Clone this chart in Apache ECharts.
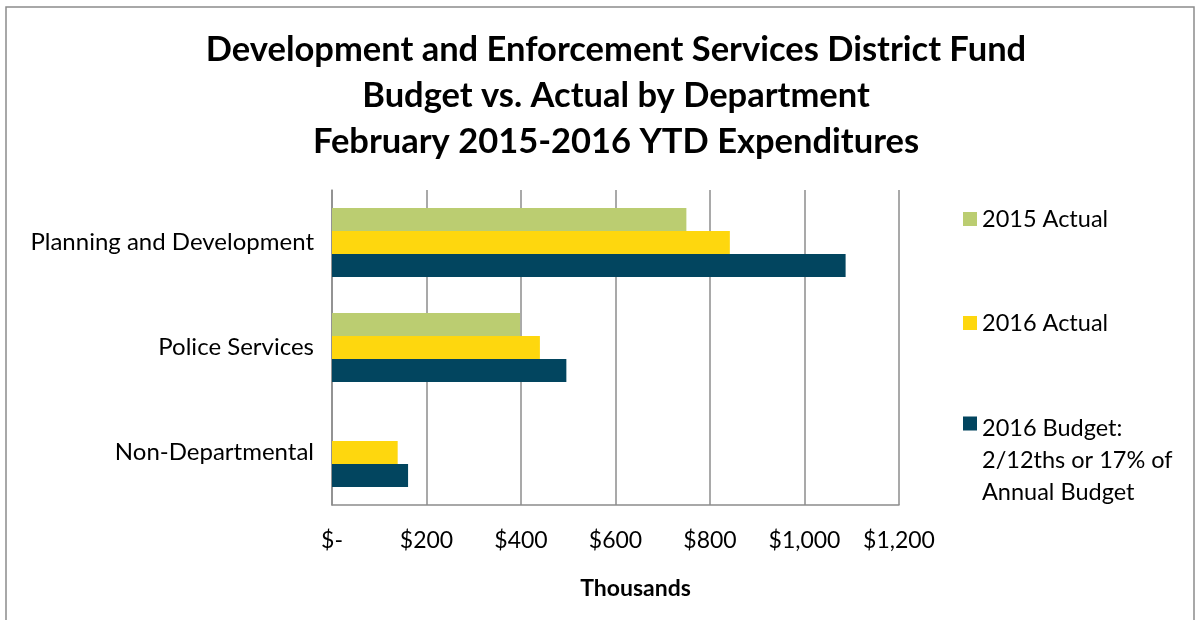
<!DOCTYPE html>
<html>
<head>
<meta charset="utf-8">
<script src="https://cdn.jsdelivr.net/npm/echarts@6/dist/echarts.min.js"></script>
<style>
  html, body { margin: 0; padding: 0; background: #fff; }
  #myChart { width: 1195px; height: 620px; }
</style>
</head>
<body>
<div id="myChart"></div>
<script>
// data
var departments = ['Planning and Development', 'Police Services', 'Non-Departmental']
var actual2015 = [750, 398, null]
var actual2016 = [842, 440, 139]
var budget2016 = [1087, 496, 161]
var xTicks = ['$-', '$200', '$400', '$600', '$800', '$1,000', '$1,200']

var font = 'Lato'
var myChart = echarts.init(document.getElementById('myChart'))

// one legend per item so each can sit at its own height
function legendBox(name, top, icon, h) {
    return {
        data: [name],
        orient: 'vertical',
        left: 958,
        top: top,
        itemWidth: 14,
        itemHeight: h || 14,
        itemGap: 0,
        icon: icon || 'rect',
        selectedMode: false,
        textStyle: {
            fontFamily: font,
            fontSize: 23.5,
            color: '#000',
            lineHeight: 32
        }
    }
}

myChart.setOption({
    animation: false,
    title: {
        text: 'Development and Enforcement Services District Fund\nBudget vs. Actual by Department\nFebruary 2015-2016 YTD Expenditures',
        left: 611,
        textAlign: 'center',
        top: 22,
        textStyle: {
            fontFamily: font,
            fontSize: 34.5,
            fontWeight: 'bold',
            color: '#000',
            lineHeight: 46
        }
    },
    legend: [
        legendBox('2015 Actual', 198),
        legendBox('2016 Actual', 302),
        // tall icon box with the square at the top, so the square lines up with the first text line
        legendBox('2016 Budget:\n2/12ths or 17% of\nAnnual Budget', 407, 'path://M0,9h14v14h-14zM0,96h14', 96)
    ],
    grid: {
        left: 332,
        right: 296,
        top: 190,
        bottom: 115
    },
    xAxis: {
        type: 'value',
        min: 0,
        max: 1200,
        interval: 200,
        name: 'Thousands',
        nameLocation: 'middle',
        nameGap: 72,
        nameTextStyle: {
            fontFamily: font,
            fontSize: 23,
            fontWeight: 'bold',
            color: '#000',
            padding: [0, 0, 0, 40]
        },
        axisLine: { show: true, lineStyle: { color: '#8c8c8c', width: 1.5 } },
        axisTick: { show: false },
        splitLine: { show: true, lineStyle: { color: '#8c8c8c', width: 1.5 } },
        axisLabel: {
            margin: 24,
            fontFamily: font,
            fontSize: 23,
            color: '#000',
            formatter: function (v) { return xTicks[v / 200] }
        }
    },
    yAxis: {
        type: 'category',
        data: departments,
        inverse: true,
        axisLine: { show: true, lineStyle: { color: '#8c8c8c', width: 1.5 } },
        axisTick: { show: false },
        axisLabel: {
            margin: 18,
            fontFamily: font,
            fontSize: 24,
            color: '#000'
        }
    },
    series: [
        {
            name: '2015 Actual',
            type: 'bar',
            data: actual2015,
            barWidth: 23,
            barGap: '0%',
            barCategoryGap: '33%',
            itemStyle: { color: '#bbcd71' }
        },
        {
            name: '2016 Actual',
            type: 'bar',
            data: actual2016,
            barWidth: 23,
            barGap: '0%',
            itemStyle: { color: '#fed70e' }
        },
        {
            name: '2016 Budget:\n2/12ths or 17% of\nAnnual Budget',
            type: 'bar',
            data: budget2016,
            barWidth: 23,
            barGap: '0%',
            itemStyle: { color: '#02455f' }
        }
    ],
    graphic: [{
        type: 'rect',
        shape: { x: 6, y: 7, width: 1188, height: 630 },
        style: { fill: 'none', stroke: '#8c8c8c', lineWidth: 1.5 },
        silent: true
    }]
})
</script>
</body>
</html>
